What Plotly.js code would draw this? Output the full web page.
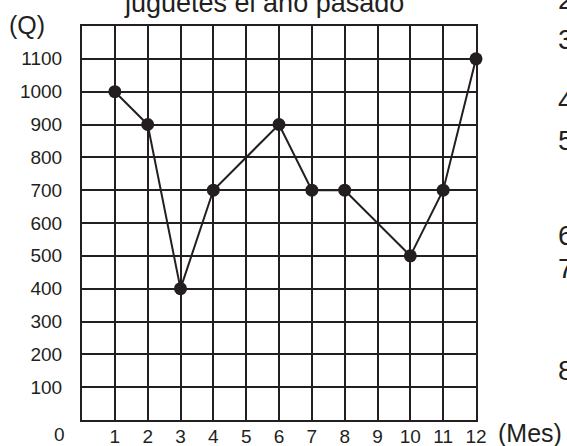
<!DOCTYPE html>
<html>
<head>
<meta charset="utf-8">
<script src="https://cdn.plot.ly/plotly-3.0.1.min.js"></script>
<style>html,body{margin:0;padding:0;background:#fff;overflow:hidden;}</style>
</head>
<body>
<div id="chart" style="width:567px;height:446px;"></div>
<script>
// Data
var months = [1, 2, 3, 4, 6, 7, 8, 10, 11, 12];
var sales = [1000, 900, 400, 700, 900, 700, 700, 500, 700, 1100];
var xTickVals = [1,2,3,4,5,6,7,8,9,10,11,12];
var xTickText = ["1","2","3","4","5","6","7","8","9","10","11","12"];
var yTickVals = [100,200,300,400,500,600,700,800,900,1000,1100];
var yTickText = ["100","200","300","400","500","600","700","800","900","1000","1100"];
var titleText = "juguetes el año pasado";
var yUnit = "(Q)";
var xUnit = "(Mes)";
var originLabel = "0";
var sideNumbers = ["2","3","4","5","6","7","8"];
var sideNumberY = [0, 39, 100, 140, 236, 268, 370]; // pixel rows of the clipped question numbers

var ink = "#231f20";
var font = "Liberation Sans, Arial, Helvetica, sans-serif";
var H = 446, mT = 26, mB = 26, plotH = H - mT - mB;
function pyToPaper(py){ return (H - mB - py) / plotH; }
var mL = 82, mR = 91, plotW = 567 - mL - mR;
function pxToPaper(px){ return (px - mL) / plotW; }

var annotations = [
  {text: titleText, xref:"paper", yref:"paper", x: pxToPaper(264), y: pyToPaper(3), xanchor:"center", yanchor:"middle", showarrow:false, font:{family:font, size:27, color:ink}},
  {text: yUnit, xref:"paper", yref:"paper", x: pxToPaper(7), y: pyToPaper(25), xanchor:"left", yanchor:"middle", showarrow:false, font:{family:font, size:25, color:ink}},
  {text: xUnit, xref:"paper", yref:"paper", x: pxToPaper(496), y: pyToPaper(433), xanchor:"left", yanchor:"middle", showarrow:false, font:{family:font, size:25, color:ink}},
  {text: originLabel, xref:"paper", yref:"paper", x: pxToPaper(67), y: pyToPaper(434), xanchor:"right", yanchor:"middle", showarrow:false, font:{family:font, size:19, color:ink}}
];
for (var i = 0; i < sideNumbers.length; i++) {
  annotations.push({text: sideNumbers[i], xref:"paper", yref:"paper", x: pxToPaper(556), y: pyToPaper(sideNumberY[i]), xanchor:"left", yanchor:"middle", showarrow:false, font:{family:font, size:28, color:ink}});
}

var trace = {
  x: months, y: sales, type: "scatter", mode: "lines+markers",
  line: {color: ink, width: 2},
  marker: {color: ink, size: 13},
  cliponaxis: false, hoverinfo: "none"
};

var layout = {
  width: 567, height: 446,
  margin: {l: mL, r: mR, t: mT, b: mB, pad: 0},
  paper_bgcolor: "#fff", plot_bgcolor: "#fff",
  showlegend: false,
  xaxis: {
    range: [0, 12], tickvals: xTickVals, ticktext: xTickText,
    showgrid: true, gridcolor: ink, gridwidth: 2, zeroline: false,
    showline: true, linecolor: ink, linewidth: 2, mirror: true,
    ticks: "", ticklabelstandoff: -2,
    tickfont: {family: font, size: 19, color: ink}, fixedrange: true
  },
  yaxis: {
    range: [0, 1200], tickvals: yTickVals, ticktext: yTickText,
    showgrid: true, gridcolor: ink, gridwidth: 2, zeroline: false,
    showline: true, linecolor: ink, linewidth: 2, mirror: true,
    ticks: "outside", ticklen: 14, tickcolor: "rgba(0,0,0,0)",
    tickfont: {family: font, size: 19, color: ink}, fixedrange: true
  },
  annotations: annotations
};

Plotly.newPlot("chart", [trace], layout, {staticPlot: true, displayModeBar: false});
</script>
</body>
</html>
